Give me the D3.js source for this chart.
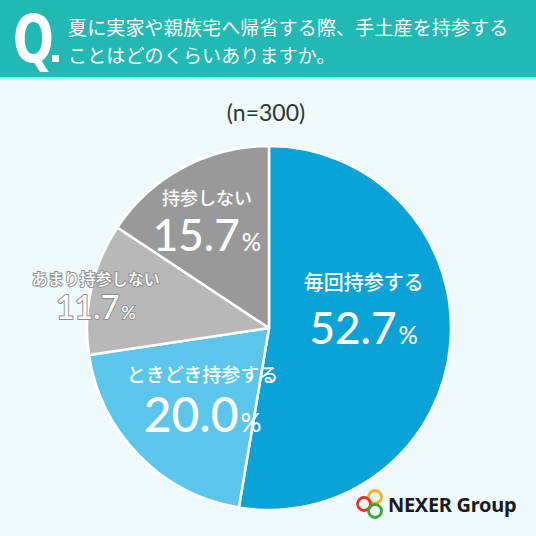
<!DOCTYPE html>
<html>
<head>
<meta charset="utf-8">
<script src="https://cdn.jsdelivr.net/npm/d3@7"></script>
<style>
  html, body { margin: 0; padding: 0; background: #eefafc; }
  svg { display: block; }
</style>
</head>
<body>
<svg id="chart" width="536" height="536"></svg>
<script>
// 回答データ (n=300)
var categories = ["毎回持参する", "ときどき持参する", "あまり持参しない", "持参しない"];
var values = [52.7, 20.0, 11.7, 15.7];
var colors = ["#0aa3d7", "#5bc5eb", "#b8b8b8", "#9a999a"];
var question = ["夏に実家や親族宅へ帰省する際、手土産を持参する", "ことはどのくらいありますか。"];
var sampleLabel = "(n=300)";

var svg = d3.select("#chart");
var width = 536, height = 536;

svg.append("rect")
    .attr("width", width)
    .attr("height", height)
    .attr("fill", "#eefafc");

// ヘッダー
svg.append("rect")
    .attr("width", width)
    .attr("height", 78)
    .attr("fill", "#22b8b4");
svg.append("rect")
    .attr("y", 77)
    .attr("width", width)
    .attr("height", 2)
    .attr("fill", "#a6e6e8");

svg.append("text")
    .attr("transform", "translate(13,62) scale(0.74,1)")
    .attr("fill", "#fff")
    .style("font-family", "'DejaVu Sans', sans-serif")
    .style("font-weight", "bold")
    .style("font-size", "65px")
    .text("Q");
svg.append("rect")
    .attr("x", 52)
    .attr("y", 55)
    .attr("width", 7)
    .attr("height", 7)
    .attr("fill", "#fff");

svg.selectAll(".qline")
    .data(question)
    .enter()
    .append("text")
    .attr("class", "qline")
    .attr("x", 68)
    .attr("y", function (d, i) { return 35 + i * 28; })
    .attr("fill", "#fff")
    .style("font-family", "'Noto Sans CJK JP', sans-serif")
    .style("font-weight", 400)
    .style("font-size", "19px")
    .style("letter-spacing", "0.15px")
    .text(function (d) { return d; });

svg.append("text")
    .attr("x", 266)
    .attr("y", 121)
    .attr("text-anchor", "middle")
    .attr("fill", "#333")
    .style("font-family", "Lato, 'Noto Sans', sans-serif")
    .style("font-size", "23px")
    .text(sampleLabel);

// 円グラフ
var cx = 269, cy = 328, radius = 182;
var pieG = svg.append("g")
    .attr("transform", "translate(" + cx + "," + cy + ")");

var pie = d3.pie().sort(null).value(function (d) { return d; });
var arcs = pie(values);

var arc = d3.arc().innerRadius(0).outerRadius(radius);

pieG.selectAll(".slice")
    .data(arcs)
    .enter()
    .append("path")
    .attr("class", "slice")
    .attr("d", arc)
    .attr("fill", function (d, i) { return colors[i]; })
    .attr("stroke", "#fff")
    .attr("stroke-width", 2.5)
    .attr("stroke-linejoin", "round");

// ラベル位置 (中心からの距離と微調整)
var labelRad = [95, 96, 163, 127];
var nudge = [[0, -26], [2, 5], [-14, 8], [-2, 5]];
var nameSize = [20, 19, 16, 18];
var numSize = [44, 48, 32, 44];
var pctSize = [24, 26, 18, 24];
var nameGap = [-20, -18, -16, -16];
var numGap = [34, 32, 18, 30];

arcs.forEach(function (a, i) {
    var c = d3.arc().innerRadius(labelRad[i]).outerRadius(labelRad[i]).centroid(a);
    var x = c[0] + nudge[i][0], y = c[1] + nudge[i][1];
    var outline = i === 2;
    var g = pieG.append("g").attr("transform", "translate(" + x + "," + y + ")");

    g.append("text")
        .attr("text-anchor", "middle")
        .attr("y", nameGap[i])
        .attr("fill", "#fff")
        .attr("stroke", outline ? "#8f8f8f" : "none")
        .attr("stroke-width", outline ? 2 : 0)
        .style("paint-order", "stroke")
        .style("font-family", "'Noto Sans CJK JP', sans-serif")
        .style("font-weight", 500)
        .style("font-size", nameSize[i] + "px")
        .text(categories[i]);

    var t = g.append("text")
        .attr("text-anchor", "middle")
        .attr("y", numGap[i])
        .attr("fill", "#fff")
        .attr("stroke", outline ? "#8f8f8f" : "none")
        .attr("stroke-width", outline ? 2 : 0)
        .style("paint-order", "stroke")
        .style("font-family", "Lato, 'Noto Sans', sans-serif")
        .style("font-weight", 500);
    t.append("tspan")
        .style("font-size", numSize[i] + "px")
        .text(values[i].toFixed(1));
    t.append("tspan")
        .attr("dx", 2)
        .style("font-size", pctSize[i] + "px")
        .text("%");
});

// ロゴ
var logo = svg.append("g").attr("transform", "translate(369,503)");
var rings = [[6, -6, "#f2b31b"], [-5, 1, "#e0352b"], [6, 8, "#3fa535"]];
logo.selectAll("circle")
    .data(rings)
    .enter()
    .append("circle")
    .attr("cx", function (d) { return d[0]; })
    .attr("cy", function (d) { return d[1]; })
    .attr("r", 6.5)
    .attr("fill", "none")
    .attr("stroke", function (d) { return d[2]; })
    .attr("stroke-width", 2.8);
logo.append("text")
    .attr("x", 19)
    .attr("y", 9)
    .attr("fill", "#1a1a1a")
    .style("font-family", "'Noto Sans', 'DejaVu Sans', sans-serif")
    .style("font-weight", "bold")
    .style("font-size", "20px")
    .style("letter-spacing", "-0.3px")
    .text("NEXER Group");
</script>
</body>
</html>
